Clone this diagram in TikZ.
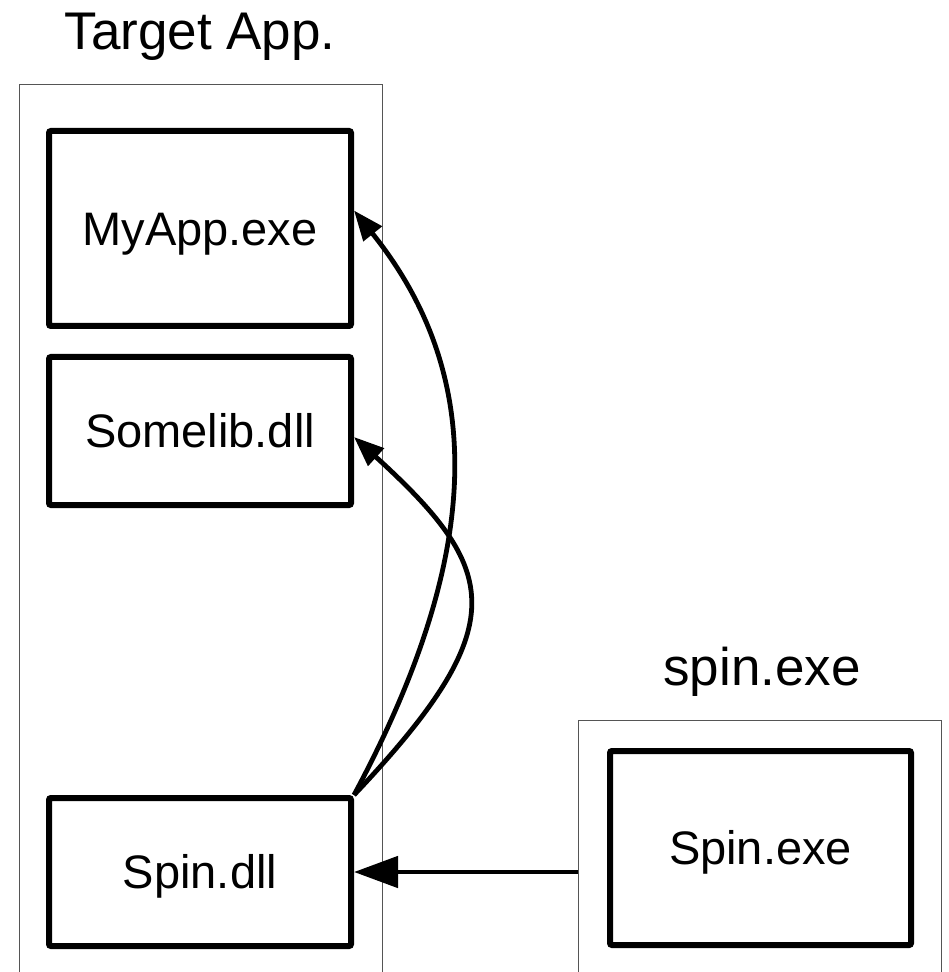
\documentclass[tikz,border=0pt]{standalone}
\usepackage{fontspec}
\setmainfont{Liberation Sans}
\usepackage{xcolor}
\definecolor{modLine}{HTML}{000000}
\definecolor{frameLine}{HTML}{555555}
\usetikzlibrary{arrows.meta,positioning,calc}
\tikzset{
    module/.style={
        draw=modLine,
        fill=white,
        rectangle,
        rounded corners=1pt,
        line width=3pt,
        align=center,
        minimum width=151pt,
        text height=16.8pt,
        text depth=0pt,
        font=\fontsize{23.5}{28}\selectfont
    },
    process/.style={
        draw=frameLine,
        line width=0.5pt
    },
    caption/.style={
        anchor=base,
        inner sep=0pt,
        font=\fontsize{26.5}{32}\selectfont
    },
    arrow/.style={
        -{Triangle[length=15pt,width=11.5pt]},
        line width=2.4pt,
        color=modLine
    },
    bigarrow/.style={
        -{Triangle[length=22pt,width=15.5pt]},
        line width=2.4pt,
        color=modLine
    }
}
\begin{document}
\begin{tikzpicture}[x=0.5pt,y=-0.5pt]
    \useasboundingbox (0,0) rectangle (948,972);

    % Process frames (open at the bottom)
    \draw[process] (19,972) |- (382,85) -- (382,972);
    \draw[process] (578,972) |- (941,720) -- (941,972);
    \node[caption] (apptitle) at (200,50) {Target App.};
    \node[caption] (spintitle) at (762,685) {spin.exe};

    % Modules of the target application
    \node[module, minimum height=97.5pt] (myapp) at (200,228.5) {MyApp.exe};
    \node[module, minimum height=74pt] (somelib) at (200,431) {Somelib.dll};
    \node[module, minimum height=74pt] (spindll) at (200,872) {Spin.dll};

    % Injector process
    \node[module, minimum width=150.5pt, minimum height=97pt] (spinexe) at (760.5,848) {Spin.exe};
    \coordinate (spinport) at (578,872);

    % Connections
    \draw[bigarrow] (spinport) -- (spindll.east);
    \draw[arrow] (spindll.north east) .. controls (480,560) and (490,380) .. ([yshift=9pt]myapp.east);
    \draw[arrow] (spindll.north east) .. controls (515,625) and (500,570) .. ([yshift=-3pt]somelib.east);
\end{tikzpicture}
\end{document}
